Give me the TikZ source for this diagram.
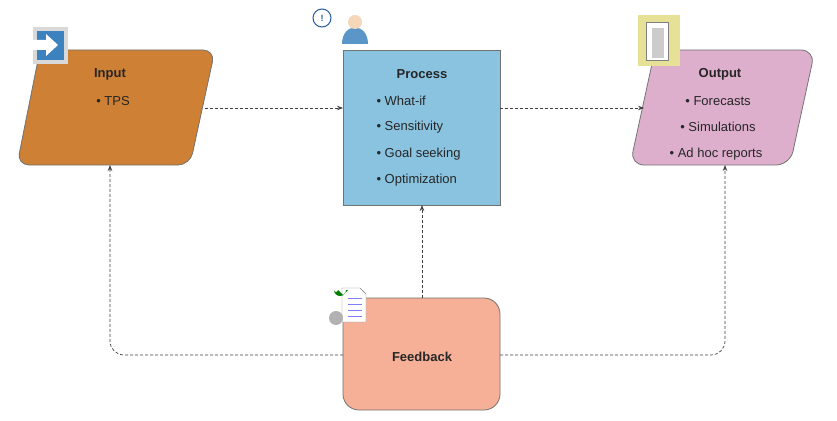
\documentclass[tikz,border=0pt]{standalone}
\usepackage{fontspec}
\setmainfont{Liberation Sans}
\usetikzlibrary{arrows.meta}
\definecolor{cin}{RGB}{206,128,52}
\definecolor{cpr}{RGB}{138,195,224}
\definecolor{cout}{RGB}{222,175,205}
\definecolor{cfb}{RGB}{247,176,152}
\definecolor{icb}{RGB}{60,130,190}
\definecolor{icb2}{RGB}{90,150,200}
\definecolor{icd}{RGB}{40,90,160}
\definecolor{skin}{RGB}{245,215,185}
\definecolor{fold}{RGB}{230,225,150}
\begin{document}
\begin{tikzpicture}[x=1pt,y=-1pt,
 conn/.style={densely dashed,black!75,line width=0.7pt,-{Stealth[length=6pt]}},
 box/.style={draw=black!55,line width=0.8pt},
 lbl/.style={font=\fontsize{13}{16}\selectfont,black!85},
 ttl/.style={font=\fontsize{13}{16}\selectfont\bfseries,black!85}]
\useasboundingbox (0,0) rectangle (837,420);
\fill[white] (0,0) rectangle (837,420);
\draw[box,fill=cin,rounded corners=12] (40,50) -- (215,50) -- (190,165) -- (17,165) -- cycle;
\draw[box,fill=cpr] (343,50) rectangle (500,205);
\draw[box,fill=cout,rounded corners=14] (655,50) -- (815,50) -- (790,165) -- (630,165) -- cycle;
\draw[box,fill=cfb,rounded corners=16] (343,298) rectangle (500,410);
\coordinate (inR) at (205,108); \coordinate (prL) at (343,108);
\coordinate (prR) at (500,108); \coordinate (outL) at (644,108);
\coordinate (prB) at (422,205); \coordinate (fbT) at (422,298);
\coordinate (fbL) at (343,355); \coordinate (fbR) at (500,355);
\coordinate (inB) at (110,165); \coordinate (outB) at (725,165);
\draw[conn] (inR) -- (prL);
\draw[conn] (prR) -- (outL);
\draw[conn] (fbT) -- (prB);
\draw[conn,rounded corners=14] (fbL) -| (inB);
\draw[conn,rounded corners=14] (fbR) -| (outB);
\node[ttl] (tin) at (110,74) {Input};
\node[lbl] (tin1) at (113,101) {• TPS};
\node[ttl] (tpr) at (422,74) {Process};
\node[lbl,anchor=west] (p1) at (373,101) {• What-if};
\node[lbl,anchor=west] (p2) at (373,127) {• Sensitivity};
\node[lbl,anchor=west] (p3) at (373,154) {• Goal seeking};
\node[lbl,anchor=west] (p4) at (373,180) {• Optimization};
\node[ttl] (tout) at (720,74) {Output};
\node[lbl] (o1) at (718,101) {• Forecasts};
\node[lbl] (o2) at (718,127) {• Simulations};
\node[lbl] (o3) at (716,154) {• Ad hoc reports};
\node[ttl] (tfb) at (422,357) {Feedback};
% icons
\fill[gray!30] (33,27) rectangle (68,64);
\fill[icb] (37,31) rectangle (64,60);
\fill[white] (32,40) -- (46,40) -- (46,34) -- (58,45) -- (46,56) -- (46,50) -- (32,50) -- cycle;
\fill[icb2] (342,44) .. controls (342,22) and (368,22) .. (368,44) -- cycle;
\fill[skin] (355,22) circle (7);
\draw[icd,fill=white,line width=1pt] (322,18) circle (9);
\node[font=\bfseries\small,text=icd] (ex) at (322,18) {!};
\fill[fold] (638,15) rectangle (680,66);
\fill[white,draw=gray] (646,22) rectangle (668,60);
\fill[gray!40] (652,28) rectangle (664,58);
\fill[white,draw=gray] (342,288) -- (342,322) -- (366,322) -- (366,294) -- (360,288) -- cycle;
\foreach \yy in {298,304,310,316} \draw[blue!50] (348,\yy) -- (362,\yy);
\fill[gray!60] (336,318) circle (7);
\fill[green!50!black] (334,290) arc (180:0:6) -- (348,290) -- (343,295) -- (338,290) arc (0:180:2) -- cycle;
\end{tikzpicture}
\end{document}
